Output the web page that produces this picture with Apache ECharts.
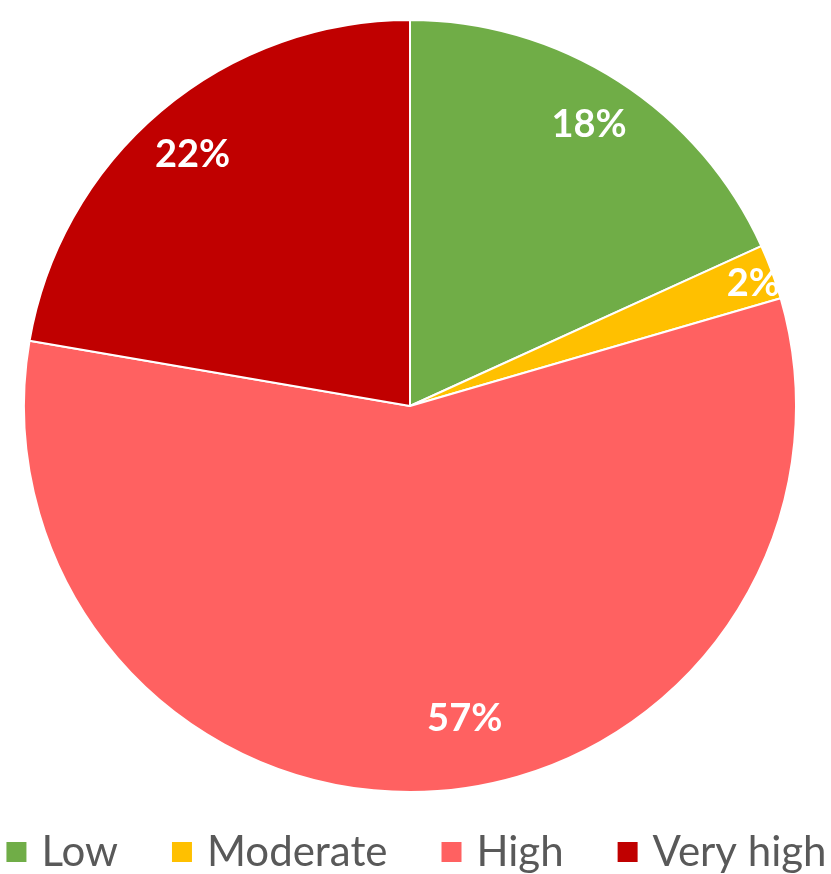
<!DOCTYPE html>
<html>
<head>
<meta charset="utf-8">
<script src="https://cdn.jsdelivr.net/npm/echarts@6/dist/echarts.min.js"></script>
<style>
  html, body { margin: 0; padding: 0; background: #fff; }
  #main { width: 831px; height: 874px; }
</style>
</head>
<body>
<div id="main"></div>
<script>
// data
const categories = ["Low", "Moderate", "High", "Very high"];
const shares = [18.2, 2.3, 57.2, 22.3];
const colors = ["#70AD47", "#FFC000", "#FF6161", "#C00000"];
// nudges so labels sit where the original put them
const labelOffsets = [[0, -3], [33, -7], [36, -18], [-4, 2]];

const chart = echarts.init(document.getElementById("main"));

const center = [410, 406];
const radius = 386;

const pieData = categories.map((name, i) => ({
  name: name,
  value: shares[i],
  itemStyle: { color: colors[i] }
}));

// same data again, transparent ring, only used to place the % labels
const labelData = categories.map((name, i) => ({
  name: name,
  value: shares[i],
  label: { offset: labelOffsets[i] }
}));

chart.setOption({
  animation: false,
  color: colors,
  legend: {
    data: categories,
    top: 831,
    left: "center",
    padding: 0,
    itemWidth: 22,
    itemHeight: 22,
    itemGap: 52,
    icon: "rect",
    textStyle: {
      fontFamily: "Lato",
      fontSize: 42,
      color: "#595959",
      padding: [0, 0, 0, 9]
    }
  },
  series: [
    {
      name: "risk",
      type: "pie",
      center: center,
      radius: [0, radius],
      startAngle: 90,
      clockwise: true,
      data: pieData,
      label: { show: false },
      labelLine: { show: false },
      itemStyle: { borderColor: "#fff", borderWidth: 2 },
      emphasis: { disabled: true }
    },
    {
      name: "labels",
      type: "pie",
      center: center,
      radius: [270, radius],
      startAngle: 90,
      clockwise: true,
      silent: true,
      data: labelData,
      itemStyle: { color: "rgba(0,0,0,0)" },
      label: {
        show: true,
        position: "inside",
        formatter: p => Math.round(p.value) + "%",
        fontFamily: "Lato",
        fontWeight: "bold",
        fontSize: 38,
        color: "#fff"
      },
      labelLine: { show: false },
      emphasis: { disabled: true }
    }
  ]
});

window.addEventListener("resize", () => {
  chart.resize();
});
</script>
</body>
</html>
